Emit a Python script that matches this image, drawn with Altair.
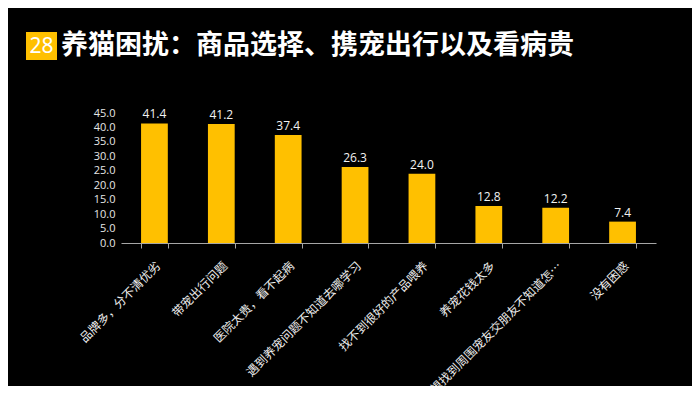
import altair as alt
import pandas as pd

categories = ["品牌多，分不清优劣", "带宠出行问题", "医院太贵，看不起病", "遇到养宠问题不知道去哪学习",
              "找不到很好的产品喂养", "养宠花钱太多", "想找到周围宠友交朋友不知道怎…", "没有困惑"]
values = [41.4, 41.2, 37.4, 26.3, 24.0, 12.8, 12.2, 7.4]
y_ticks = [0, 5, 10, 15, 20, 25, 30, 35, 40, 45]
title_num = "28"
title_text = "养猫困扰：商品选择、携宠出行以及看病贵"

df = pd.DataFrame({"cat": categories, "val": values})

x = alt.X("cat:N", sort=None, title=None,
          scale=alt.Scale(paddingInner=0.6, paddingOuter=0.3),
          axis=alt.Axis(labelAngle=-45, labelFont="Noto Sans CJK SC", labelFontSize=12,
                        labelColor="#eeeeee", domainColor="#a6a6a6", tickColor="#a6a6a6",
                        tickBand="extent", tickSize=5, labelPadding=12, labelLimit=300,
                        labelOverlap=False))
y = alt.Y("val:Q", title=None,
          scale=alt.Scale(domain=[0, 45]),
          axis=alt.Axis(values=y_ticks, format=".1f", domain=False, ticks=False, grid=False,
                        labelFont="Open Sans", labelFontSize=11, labelColor="#e6e6e6", labelPadding=6,
                        labelOverlap=False, tickCount=10))

bars = alt.Chart(df).mark_bar(color="#FFC000").encode(x=x, y=y)
labels = alt.Chart(df).mark_text(dy=-9, color="#f2f2f2", font="Open Sans", fontSize=12).encode(
    x=x, y=y, text=alt.Text("val:Q", format=".1f"))

box = alt.Chart(pd.DataFrame({"t": [title_num]})).mark_rect(color="#FFC000").encode(
    x=alt.value(-95), x2=alt.value(-64), y=alt.value(-81), y2=alt.value(-53))
box_text = alt.Chart(pd.DataFrame({"t": [title_num]})).mark_text(
    color="white", font="Noto Sans", fontSize=21, align="center", baseline="middle").encode(
    x=alt.value(-79.5), y=alt.value(-66), text="t:N")
title = alt.Chart(pd.DataFrame({"t": [title_text]})).mark_text(
    color="white", font="Noto Sans CJK SC", fontSize=27, fontWeight="bold",
    align="left", baseline="middle").encode(
    x=alt.value(-60), y=alt.value(-67), text="t:N")

chart = alt.layer(bars, labels, box, box_text, title).properties(
    width=535, height=130,
    autosize=alt.AutoSizeParams(type="none"),
    padding={"left": 113, "top": 105, "right": 36, "bottom": 143},
    background="black",
).configure_view(stroke=None)

chart.save("out.html", embed_options={"renderer": "svg", "actions": False})
